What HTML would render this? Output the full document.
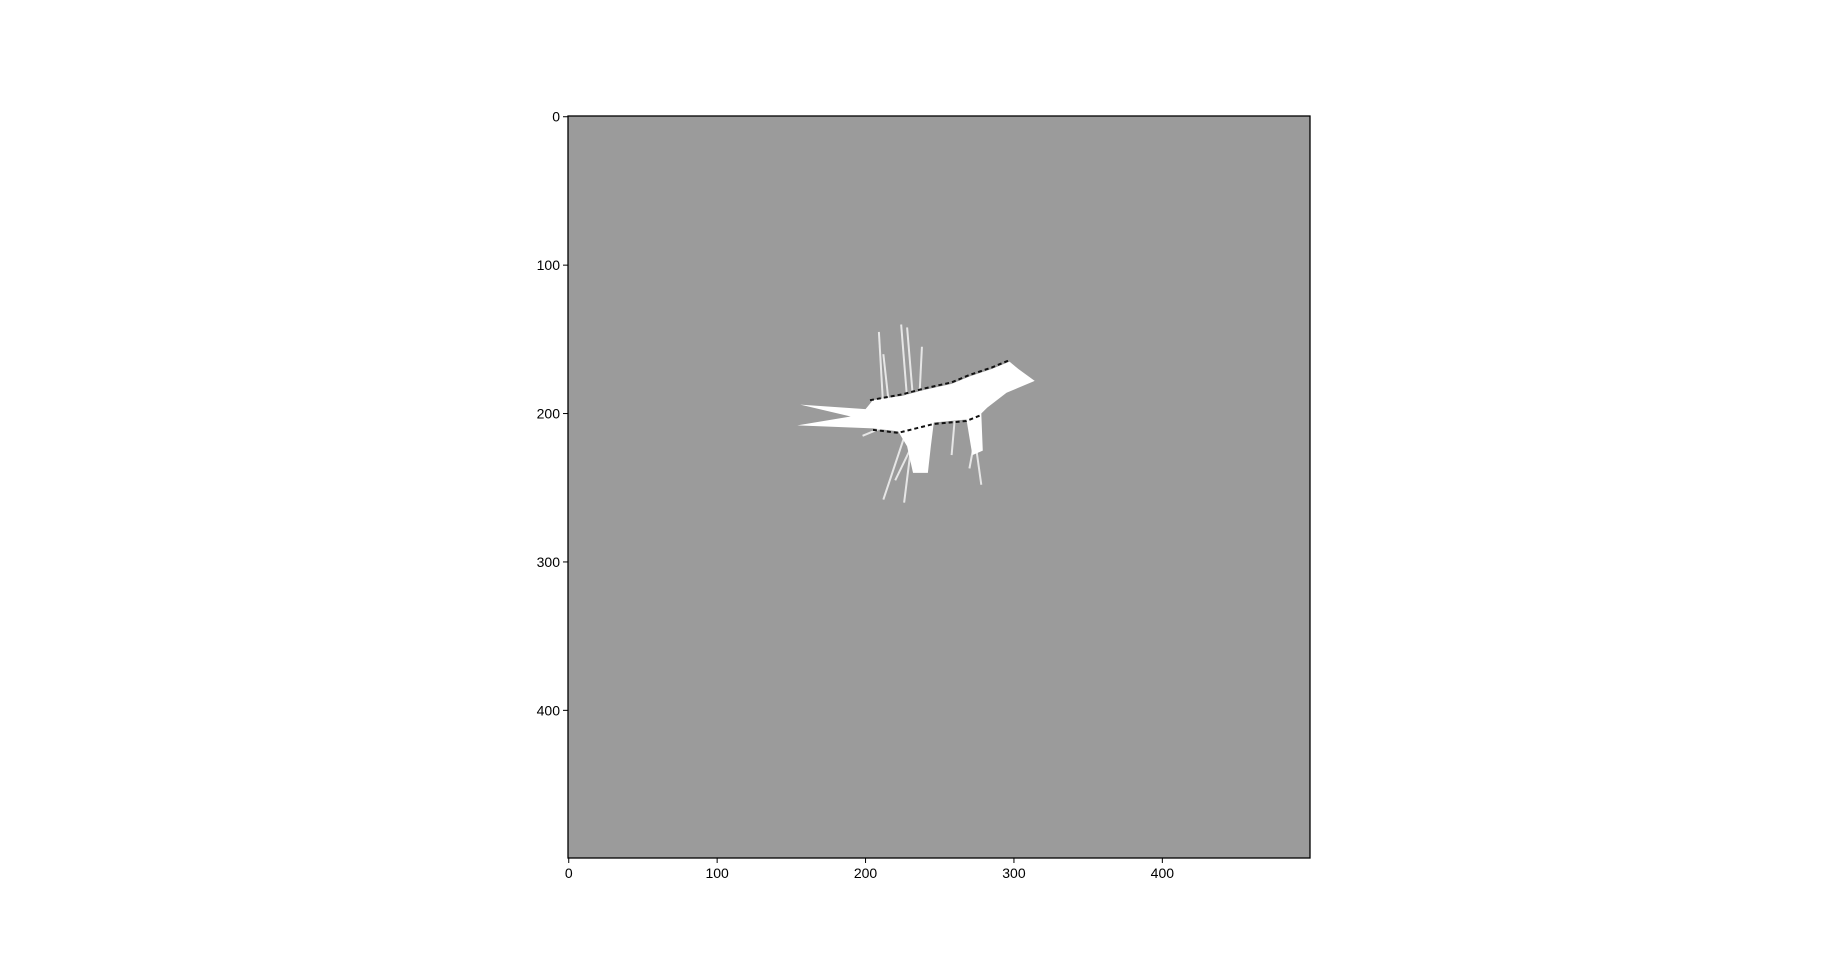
<!DOCTYPE html>
<html><head><meta charset="utf-8"><style>
html,body{margin:0;padding:0;background:#fff;width:1832px;height:964px;overflow:hidden}
svg text{font-family:"Liberation Sans","DejaVu Sans",sans-serif;font-size:14px;fill:#000}
</style></head><body>
<svg id="chart" width="1832" height="964"></svg>
<script>
const xTicks=[0,100,200,300,400];
const yTicks=[0,100,200,300,400];
const freeBody=[[156,194],[200,197],[205,191],[225,188],[240,184],[258,180],[270,175],[285,170],[297,165],[303,170],[314,178],[295,186],[282,196],[278,200],[279,225],[272,228],[268,204],[246,206],[244,222],[242,240],[232,240],[228,222],[222,212],[205,210],[154,208],[190,202],[156,194]];
const obstacleEdge=[[203,191],[225,187],[240,183],[258,179],[270,174],[285,169],[297,164]];
const obstacleLower=[[205,211],[222,213],[246,207],[268,205],[278,201]];
const spikeStarts=[[212,197],[216,196],[228,190],[232,190],[236,195],[228,210],[232,212],[236,212],[260,205],[272,205],[276,205],[222,205]];
const spikeEnds=[[209,145],[212,160],[224,140],[228,142],[238,155],[212,258],[226,260],[220,245],[258,228],[278,248],[270,237],[198,215]];
const NS="http://www.w3.org/2000/svg";
const svg=document.getElementById('chart');
const L=568,T=116,S=742;
const sx=v=>L+(v+0.5)/500*S, sy=v=>T+(v+0.5)/500*S;
function mk(t,a){const e=document.createElementNS(NS,t);for(const k in a)e.setAttribute(k,a[k]);svg.appendChild(e);return e;}
const bg=mk('rect',{x:L,y:T,width:S,height:S,fill:'#9b9b9b'});


spikeStarts.forEach((p,i)=>{const q=spikeEnds[i];
 const l=mk('line',{x1:sx(p[0]),y1:sy(p[1]),x2:sx(q[0]),y2:sy(q[1]),stroke:'#e6e6e6','stroke-width':2});
 
 });
const body=mk('polygon',{points:freeBody.map(p=>sx(p[0])+','+sy(p[1])).join(' '),fill:'#fff'});


[obstacleEdge,obstacleLower].forEach(arr=>{
 const pl=mk('polyline',{points:arr.map(p=>sx(p[0])+','+sy(p[1])).join(' '),fill:'none',stroke:'#111','stroke-width':2,'stroke-dasharray':'4 3'});
 
 });
const fr=mk('rect',{x:L,y:T,width:S,height:S,fill:'none',stroke:'#000','stroke-width':1.3});


xTicks.forEach(v=>{const x=sx(v);
 const t=mk('line',{x1:x,y1:T+S,x2:x,y2:T+S+5,stroke:'#000'});
 
 
 const tx=mk('text',{x:x,y:T+S+20,'text-anchor':'middle'});tx.textContent=v;
 
 });
yTicks.forEach(v=>{const y=sy(v);
 const t=mk('line',{x1:L-5,y1:y,x2:L,y2:y,stroke:'#000'});
 
 
 const tx=mk('text',{x:L-8,y:y+5,'text-anchor':'end'});tx.textContent=v;
 
 });
</script>
</body></html>
